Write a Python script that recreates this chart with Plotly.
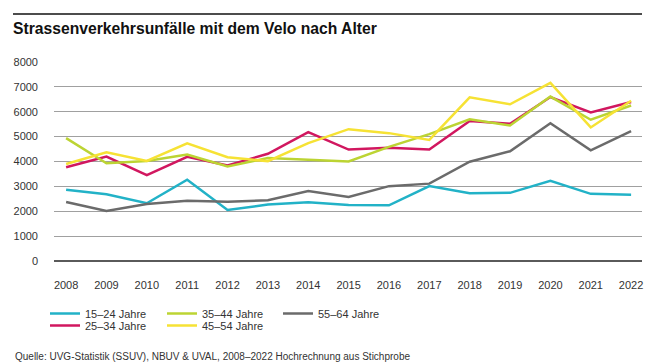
import plotly.graph_objects as go

years = list(range(2008, 2023))
series_names = ["15–24 Jahre", "25–34 Jahre", "35–44 Jahre", "45–54 Jahre", "55–64 Jahre"]
v15_24 = [2860, 2680, 2320, 3270, 2050, 2270, 2360, 2250, 2240, 3010, 2720, 2740, 3220, 2700, 2660]
v25_34 = [3770, 4200, 3450, 4190, 3840, 4310, 5180, 4480, 4550, 4480, 5630, 5520, 6590, 5970, 6390]
v35_44 = [4940, 3930, 4020, 4280, 3800, 4140, 4070, 4000, 4590, 5100, 5700, 5450, 6610, 5680, 6250]
v45_54 = [3900, 4370, 4020, 4730, 4170, 4010, 4740, 5300, 5140, 4870, 6580, 6300, 7160, 5370, 6440]
v55_64 = [2370, 2010, 2290, 2420, 2380, 2440, 2810, 2570, 3010, 3110, 3990, 4410, 5540, 4450, 5220]
values = [v15_24, v25_34, v35_44, v45_54, v55_64]
colors = ["#22b2c7", "#d1175f", "#bcd433", "#f6e234", "#6b6b6b"]
legend_ids = ["legend", "legend2", "legend3", "legend4", "legend5"]
y_ticks = [0, 1000, 2000, 3000, 4000, 5000, 6000, 7000, 8000]

W, H = 652, 364
L, R, T, B = 54, 10, 62, 103

fig = go.Figure()
for name, vals, col, lg in zip(series_names, values, colors, legend_ids):
    fig.add_trace(go.Scatter(x=years, y=vals, name=name, mode="lines",
                             line=dict(color=col, width=2.5), legend=lg))

font = "Liberation Sans, Arial, sans-serif"

def leg(xpx, ypx):
    return dict(xref="container", yref="container", x=xpx / W, y=1 - (ypx - 15) / H,
                xanchor="left", yanchor="top", orientation="v",
                font=dict(family=font, size=11, color="#333"),
                bgcolor="rgba(0,0,0,0)", itemwidth=30)

fig.update_layout(
    width=W, height=H,
    margin=dict(l=L, r=R, t=T, b=B, autoexpand=False),
    paper_bgcolor="white", plot_bgcolor="white",
    font=dict(family=font, size=11, color="#333"),
    title=dict(text="<b>Strassenverkehrsunfälle mit dem Velo nach Alter</b>",
               xref="container", yref="container", x=13 / W, y=1 - 29 / H,
               xanchor="left", yanchor="middle",
               font=dict(family=font, size=15.7, color="#111")),
    xaxis=dict(range=[2007.70, 2022.27], tickmode="array", tickvals=years,
               showgrid=False, zeroline=False, showline=False, ticks="",
               tickangle=0, ticklabelstandoff=16, tickfont=dict(size=11, color="#333")),
    yaxis=dict(range=[0, 8000], tickmode="array", tickvals=y_ticks,
               showgrid=True, gridcolor="#a0a0a0", gridwidth=1,
               zeroline=True, zerolinecolor="#5a5a5a", zerolinewidth=2,
               showline=False, ticks="", ticklabelstandoff=15,
               tickfont=dict(size=11, color="#333")),
    legend=leg(45, 314),
    legend2=leg(45, 326),
    legend3=leg(162, 314),
    legend4=leg(162, 326),
    legend5=leg(278, 314),
    showlegend=True,
    hovermode=False,
)

fig.add_shape(type="line", xref="paper", yref="paper",
              x0=(13 - L) / (W - L - R), x1=(642 - L) / (W - L - R),
              y0=1 + (T - 14) / (H - T - B), y1=1 + (T - 14) / (H - T - B),
              line=dict(color="#111", width=1.5))

fig.add_annotation(text="Quelle: UVG-Statistik (SSUV), NBUV & UVAL, 2008–2022 Hochrechnung aus Stichprobe",
                   xref="paper", yref="paper",
                   x=(13 - L) / (W - L - R), y=-(356 - (H - B)) / (H - T - B),
                   xanchor="left", yanchor="middle", showarrow=False,
                   font=dict(family=font, size=10, color="#333"))

fig.write_html("out.html", config={"displayModeBar": False},
               post_script="document.body.style.margin='0';document.body.style.overflow='hidden';")
